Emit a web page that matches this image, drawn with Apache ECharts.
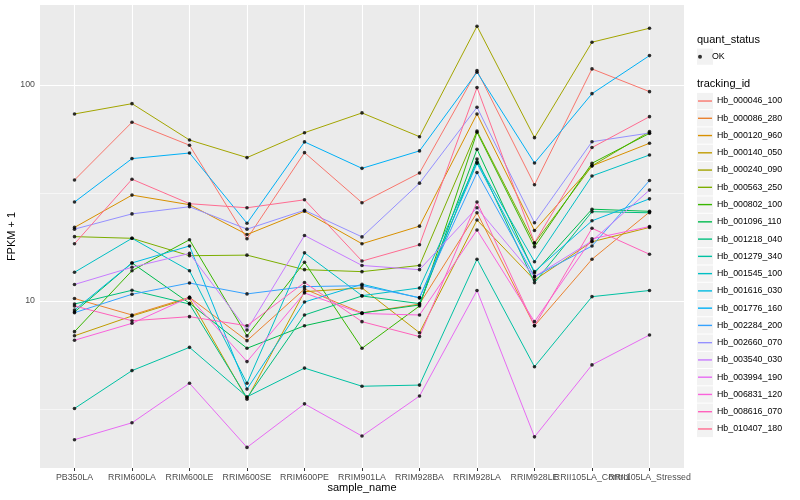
<!DOCTYPE html>
<html><head><meta charset="utf-8">
<script src="https://cdn.jsdelivr.net/npm/echarts@6/dist/echarts.min.js"></script>
<style>html,body{margin:0;padding:0;background:#fff}#c{width:800px;height:500px}</style>
</head><body><div id="c"></div>
<script>
const categories = ['PB350LA','RRIM600LA','RRIM600LE','RRIM600SE','RRIM600PE','RRIM901LA','RRIM928BA','RRIM928LA','RRIM928LE','RRII105LA_Control','RRII105LA_Stressed'];
const trackingIds = ['Hb_000046_100','Hb_000086_280','Hb_000120_960','Hb_000140_050','Hb_000240_090','Hb_000563_250','Hb_000802_100','Hb_001096_110','Hb_001218_040','Hb_001279_340','Hb_001545_100','Hb_001616_030','Hb_001776_160','Hb_002284_200','Hb_002660_070','Hb_003540_030','Hb_003994_190','Hb_006831_120','Hb_008616_070','Hb_010407_180'];
const colors = ['#F8766D','#EA8331','#D89000','#C09B00','#A3A500','#7CAE00','#39B600','#00BB4E','#00BF7D','#00C1A3','#00BFC4','#00BAE0','#00B0F6','#35A2FF','#9590FF','#C77CFF','#E76BF3','#FA62DB','#FF62BC','#FF6C91'];

const Hb_000046_100 = [36.3, 67.2, 52.6, 19.4, 48.6, 28.5, 39.1, 116.5, 34.5, 118.6, 93.1];
const Hb_000086_280 = [10.27, 8.61, 10.40, 6.55, 11.36, 8.80, 9.68, 25.6, 7.68, 15.6, 25.8];
const Hb_000120_960 = [21.9, 30.9, 27.9, 20.3, 26.0, 18.4, 22.2, 73.4, 21.2, 42.2, 53.7];
const Hb_000140_050 = [6.90, 8.52, 10.29, 3.51, 11.04, 11.49, 7.13, 23.7, 12.51, 18.8, 21.9];
const Hb_000240_090 = [73.4, 81.9, 55.6, 46.1, 60.1, 74.2, 57.6, 187, 57.0, 157.7, 183];
const Hb_000563_250 = [19.85, 19.5, 16.2, 16.3, 13.96, 13.67, 14.6, 61.2, 18.5, 42.2, 60.8];
const Hb_000802_100 = [7.21, 13.81, 19.2, 6.89, 15.1, 6.04, 9.48, 60.4, 17.8, 43.4, 59.7];
const Hb_001096_110 = [8.89, 15.0, 9.76, 6.04, 7.68, 8.80, 9.58, 50.4, 13.48, 26.6, 26.0];
const Hb_001218_040 = [9.68, 11.21, 9.68, 3.56, 8.61, 10.55, 9.72, 45.4, 12.15, 25.9, 25.6];
const Hb_001279_340 = [3.18, 4.76, 6.10, 3.60, 4.89, 4.03, 4.08, 15.6, 4.96, 10.47, 11.18];
const Hb_001545_100 = [13.58, 19.5, 13.81, 4.16, 16.7, 10.58, 11.49, 44.0, 15.2, 37.9, 47.4];
const Hb_001616_030 = [9.08, 15.0, 17.97, 3.91, 9.89, 11.95, 10.33, 43.4, 13.67, 23.5, 29.7];
const Hb_001776_160 = [28.7, 45.6, 48.4, 22.9, 54.5, 41.1, 49.5, 114.5, 43.5, 91.1, 136.7];
const Hb_002284_200 = [8.83, 10.74, 12.11, 10.78, 11.65, 11.77, 10.36, 39.3, 12.96, 17.97, 36.1];
const Hb_002660_070 = [21.5, 25.3, 27.3, 21.5, 26.3, 19.8, 35.1, 78.8, 23.0, 54.6, 59.9];
const Hb_003540_030 = [11.92, 14.32, 16.6, 7.34, 20.1, 14.6, 13.96, 27.0, 12.96, 18.96, 32.6];
const Hb_003994_190 = [2.28, 2.73, 4.16, 2.10, 3.34, 2.37, 3.63, 11.18, 2.35, 5.06, 6.96];
const Hb_006831_120 = [6.58, 7.88, 10.40, 5.24, 10.89, 8.75, 8.61, 21.3, 8.02, 19.4, 22.1];
const Hb_008616_070 = [9.48, 8.10, 8.46, 7.68, 12.18, 8.02, 6.84, 28.7, 7.68, 21.7, 16.45];
const Hb_010407_180 = [18.4, 36.6, 28.2, 27.0, 29.4, 15.3, 18.2, 97.2, 18.6, 51.3, 71.3];

const seriesValues = [Hb_000046_100, Hb_000086_280, Hb_000120_960, Hb_000140_050, Hb_000240_090, Hb_000563_250, Hb_000802_100, Hb_001096_110, Hb_001218_040, Hb_001279_340, Hb_001545_100, Hb_001616_030, Hb_001776_160, Hb_002284_200, Hb_002660_070, Hb_003540_030, Hb_003994_190, Hb_006831_120, Hb_008616_070, Hb_010407_180];

const yLabelTicks = [10, 100];
const yMinorTicks = [3.1623, 31.623];
const yRange = [1.686, 234.4];

const FONT = '"Liberation Sans", Arial, Helvetica, sans-serif';
const chart = echarts.init(document.getElementById('c'), null, {renderer: 'canvas', width: 800, height: 500});

const catIdx = categories.map((c, i) => i);
const evenIdx = catIdx.filter(i => i % 2 === 0);
const oddIdx = catIdx.filter(i => i % 2 === 1);

const lineSeries = trackingIds.map((id, k) => ({
  name: id, type: 'line', symbol: 'none', showSymbol: false, xAxisIndex: 0,
  data: seriesValues[k].map((v, i) => [i, v]),
  lineStyle: {width: 1, color: colors[k]}, itemStyle: {color: colors[k]},
  emphasis: {disabled: true}, z: 2, silent: true
}));

const pointSeries = {
  name: 'OK', type: 'scatter', symbol: 'circle', symbolSize: 3.6, xAxisIndex: 0,
  itemStyle: {color: '#000'}, z: 3, silent: true,
  data: seriesValues.flatMap(vals => vals.map((v, i) => [i, v]))
};

const gridSeries = {
  name: '__grid', type: 'line', data: [], silent: true, z: 1, xAxisIndex: 0,
  markLine: {
    silent: true, symbol: ['none', 'none'], label: {show: false}, z: 1, animation: false,
    emphasis: {disabled: true},
    data: [
      ...yLabelTicks.map(v => ({yAxis: v, lineStyle: {color: '#fff', width: 1.1, type: 'solid'}})),
      ...yMinorTicks.map(v => ({yAxis: v, lineStyle: {color: '#fff', width: 0.55, type: 'solid'}})),
      ...catIdx.map(i => ({xAxis: i, lineStyle: {color: '#fff', width: 1.1, type: 'solid'}}))
    ]
  }
};

const xLabelStyle = {show: true, fontSize: 8.8, color: '#4D4D4D', margin: 5, fontFamily: FONT, hideOverlap: false,
  showMinLabel: true, showMaxLabel: true, formatter: v => categories[Math.round(v)]};

// legend layout
const LEG_LEFT = 698, LEG1_TOP = 48, LEG2_TOP = 92.4, ROW = 17.26;
const keyBoxes = [
  {type: 'rect', z: -1, silent: true, shape: {x: 697, y: LEG1_TOP + 0.5, width: 16, height: ROW - 1}, style: {fill: '#F2F2F2'}},
  ...trackingIds.map((id, k) => ({type: 'rect', z: -1, silent: true,
    shape: {x: 697, y: LEG2_TOP + ROW * k + 0.5, width: 16, height: ROW - 1}, style: {fill: '#F2F2F2'}}))
];

chart.setOption({
  animation: false,
  backgroundColor: '#fff',
  textStyle: {fontFamily: FONT},
  title: [
    {text: 'quant_status', left: 697, top: 34, padding: 0, textStyle: {fontSize: 11, fontWeight: 'normal', color: '#000', fontFamily: FONT}},
    {text: 'tracking_id', left: 697, top: 78, padding: 0, textStyle: {fontSize: 11, fontWeight: 'normal', color: '#000', fontFamily: FONT}}
  ],
  graphic: {elements: keyBoxes},
  grid: {left: 40, right: 116, top: 5, bottom: 32, show: true, backgroundColor: '#EBEBEB', borderWidth: 0,
    containLabel: false, outerBoundsMode: 'none'},
  xAxis: [
    {
      type: 'value', min: -0.6, max: 10.6, position: 'bottom',
      name: 'sample_name', nameLocation: 'middle', nameGap: 14.5, nameMoveOverlap: false,
      nameTextStyle: {fontSize: 11, color: '#000', fontFamily: FONT},
      axisLine: {show: false},
      axisTick: {show: true, length: 3, lineStyle: {color: '#333', width: 1}, customValues: catIdx},
      axisLabel: Object.assign({customValues: evenIdx}, xLabelStyle),
      splitLine: {show: false}
    },
    {
      type: 'value', min: -0.6, max: 10.6, position: 'bottom', offset: 0,
      axisLine: {show: false}, axisTick: {show: false},
      axisLabel: Object.assign({customValues: oddIdx}, xLabelStyle),
      splitLine: {show: false}
    }
  ],
  yAxis: {
    type: 'log', logBase: 10, min: yRange[0], max: yRange[1],
    name: 'FPKM + 1', nameLocation: 'middle', nameGap: 22.5, nameRotate: 90, nameMoveOverlap: false,
    nameTextStyle: {fontSize: 11, color: '#000', fontFamily: FONT},
    axisLine: {show: false},
    axisTick: {show: true, length: 3, lineStyle: {color: '#333', width: 1}, customValues: yLabelTicks},
    axisLabel: {show: true, fontSize: 8.8, color: '#4D4D4D', margin: 5, fontFamily: FONT, customValues: yLabelTicks,
      showMinLabel: true, showMaxLabel: true, hideOverlap: false},
    splitLine: {show: false}
  },
  legend: [
    {data: ['OK'], orient: 'vertical', left: LEG_LEFT, top: LEG1_TOP, padding: 0, itemGap: 0, selectedMode: false,
      itemWidth: 14, itemHeight: 4, icon: 'circle',
      textStyle: {fontSize: 8.8, color: '#000', lineHeight: 17.3, fontFamily: FONT}},
    {data: trackingIds, orient: 'vertical', left: LEG_LEFT, top: LEG2_TOP, padding: 0, itemGap: 0, selectedMode: false,
      itemWidth: 14, itemHeight: 1.4, icon: 'rect',
      textStyle: {fontSize: 8.8, color: '#000', lineHeight: ROW, fontFamily: FONT}}
  ],
  series: [gridSeries, ...lineSeries, pointSeries]
});
</script></body></html>
